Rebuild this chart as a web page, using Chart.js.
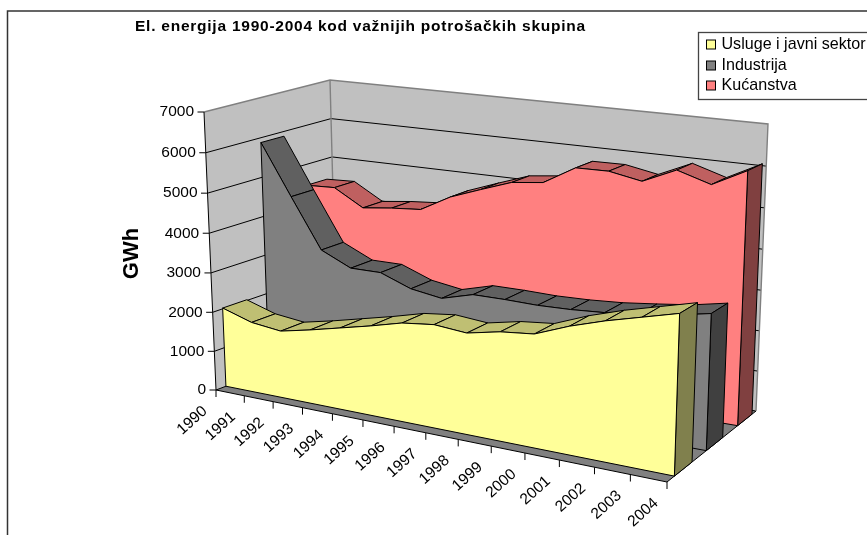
<!DOCTYPE html>
<html><head><meta charset="utf-8">
<style>html,body{margin:0;padding:0;background:#fff}canvas{display:block}</style>
<script src="https://cdn.jsdelivr.net/npm/chart.js@4"></script>
</head><body><canvas id="c" width="867" height="535"></canvas>
<script>
const years = ['1990','1991','1992','1993','1994','1995','1996','1997','1998','1999','2000','2001','2002','2003','2004'];
const usluge = [2020,1780,1690,1850,2030,2210,2410,2500,2430,2590,2670,2980,3230,3440,3650];
const industrija = [5880,4600,3350,3000,3000,2710,2590,2800,2800,2780,2800,2850,2940,3040,3200];
const kucanstva = [4460,4490,4060,4150,4210,4620,4900,5170,5260,5710,5720,5570,5930,5680,6100];
const seriesNames = ['Usluge i javni sektor','Industrija','Kućanstva'];
const titleText = 'El. energija 1990-2004 kod važnijih potrošačkih skupina';
const axisTitle = 'GWh';
const yMax = 7000, yStep = 1000;

// perspective box: corners indexed [t][d][h]
const box = [[[[216,390],[204,112]],[[337,344],[330,80]]],[[[667,482],[677,162]],[[756,411],[768,124]]]];
const persp = {t:-0.13, d:0.10, h:-0.03};
function project(t,d,h){
  let X=0,Y=0,W=0;
  for(const a of [0,1])for(const b of [0,1])for(const c of [0,1]){
    const w=(a?t:1-t)*(b?d:1-d)*(c?h:1-h)*(1+persp.t*a+persp.d*b+persp.h*c);
    X+=w*box[a][b][c][0];Y+=w*box[a][b][c][1];W+=w;
  }
  return {x:X/W,y:Y/W};
}
const tOf=i=>i/(years.length-1), hOf=v=>v/yMax;
const fontFamily='"Liberation Sans", Arial, sans-serif';
const tickFont=Chart.helpers.toFont({family:fontFamily,size:15.5,lineHeight:1.2});

class GwhScale extends Chart.LinearScale{
  static id='gwh3d'; static defaults={};
  _computeLabelArea(){return undefined;}
  _computeLabelItems(){
    return this.ticks.map(tk=>{const p=project(0,0,hOf(tk.value));
      return {label:String(tk.value),font:tickFont,textOffset:0,options:{rotation:0,color:'#000',textAlign:'right',textBaseline:'middle',translation:[p.x-10,p.y]}};});
  }
  _computeGridLineItems(){
    return this.ticks.map(tk=>{const p=project(0,0,hOf(tk.value));
      return {x1:0,y1:0,x2:0,y2:0,tx1:p.x-6.5,ty1:p.y,tx2:p.x,ty2:p.y,width:0,color:'',tickWidth:1,tickColor:'#000',tickBorderDash:[],tickBorderDashOffset:0};});
  }
}
class YearScale extends Chart.CategoryScale{
  static id='year3d'; static defaults={};
  _computeLabelArea(){return undefined;}
  _computeLabelItems(){
    return this.ticks.map((tk,i)=>{const p=project(tOf(i),0,0);
      return {label:years[i],font:tickFont,textOffset:0,options:{rotation:-42*Math.PI/180,color:'#000',textAlign:'right',textBaseline:'middle',translation:[p.x-11,p.y+19]}};});
  }
  _computeGridLineItems(){
    return this.ticks.map((tk,i)=>{const p=project(tOf(i),0,0);
      return {x1:0,y1:0,x2:0,y2:0,tx1:p.x,ty1:p.y,tx2:p.x,ty2:p.y+7,width:0,color:'',tickWidth:1,tickColor:'#000',tickBorderDash:[],tickBorderDashOffset:0};});
  }
}
Chart.register(GwhScale,YearScale);

const painter=[];
function poly(pts,fillColor,line,width){
  painter.push({data:pts.map(p=>({x:p.x,y:p.y})).concat(fillColor?[{x:pts[0].x,y:pts[0].y}]:[]),
    polyFill:fillColor,showLine:true,fill:false,tension:0,borderColor:line||'#000',borderWidth:width===undefined?1:width,
    pointRadius:0,pointHoverRadius:0,xAxisID:'sx',yAxisID:'sy',clip:false,parsing:false,normalized:true,label:''});
}
// walls and floor
const P=project;
poly([P(0,0,0),P(0,1,0),P(0,1,1),P(0,0,1)],'#C0C0C0','#C0C0C0',0);
poly([P(0,1,0),P(1,1,0),P(1,1,1),P(0,1,1)],'#C0C0C0','#C0C0C0',0);
poly([P(0,0,0),P(1,0,0),P(1,1,0),P(0,1,0)],'#808080','#000',1);
for(let v=yStep;v<yMax;v+=yStep){const h=hOf(v);poly([P(0,0,h),P(0,1,h),P(1,1,h)],null,'#000',1);}
poly([P(0,0,1),P(0,1,1),P(1,1,1),P(1,1,0)],null,'#808080',1.4);
poly([P(0,1,1),P(0,1,0)],null,'#808080',1.4);
poly([P(0,0,0),P(0,0,1)],null,'#000',1);

const seriesDraw=[
 {v:kucanstva,d:[.775,.95],front:'#FF8080',top:'#BF6060',side:'#804040',name:seriesNames[2]},
 {v:industrija,d:[.415,.60],front:'#808080',top:'#606060',side:'#404040',name:seriesNames[1]},
 {v:usluge,d:[.075,.26],front:'#FFFF99',top:'#BFBF73',side:'#80804D',name:seriesNames[0]}
];
for(const s of seriesDraw){
  const [d0,d1]=s.d,n=s.v.length;
  for(let i=0;i<n-1;i++){
    poly([P(tOf(i),d0,hOf(s.v[i])),P(tOf(i+1),d0,hOf(s.v[i+1])),P(tOf(i+1),d1,hOf(s.v[i+1])),P(tOf(i),d1,hOf(s.v[i]))],s.top);
  }
  poly([P(1,d0,0),P(1,d1,0),P(1,d1,hOf(s.v[n-1])),P(1,d0,hOf(s.v[n-1]))],s.side);
  poly([P(0,d0,0)].concat(s.v.map((v,i)=>P(tOf(i),d0,hOf(v)))).concat([P(1,d0,0)]),s.front);
  painter[painter.length-1].label=s.name;
}
const polyPlugin={id:'polyFill',
  beforeDatasetDraw(chart,args){
    const ds=chart.data.datasets[args.index];
    if(!ds.polyFill)return;
    const pts=args.meta.data,ctx=chart.ctx;
    ctx.save();ctx.beginPath();
    pts.forEach((p,i)=>i?ctx.lineTo(p.x,p.y):ctx.moveTo(p.x,p.y));
    ctx.closePath();ctx.fillStyle=ds.polyFill;ctx.fill();ctx.restore();
  }};
const legendColors=['#FFFF99','#808080','#FF8080'];
const legendY=[44.5,65.5,85.5];
const decorPlugin={id:'decor',
  afterDraw(chart){
    const ctx=chart.ctx;
    ctx.save();
    ctx.strokeStyle='#333';ctx.lineWidth=1.5;
    ctx.beginPath();ctx.moveTo(867,11);ctx.lineTo(7.5,11);ctx.lineTo(7.5,535);ctx.stroke();
    ctx.fillStyle='#000';ctx.textBaseline='alphabetic';
    ctx.font='bold 15.5px '+fontFamily;ctx.textAlign='left';
    ctx.letterSpacing='0.76px';
    ctx.fillText(titleText,135,31);
    ctx.letterSpacing='0px';
    ctx.save();ctx.translate(138,253.5);ctx.rotate(-Math.PI/2);
    ctx.font='bold 22px '+fontFamily;ctx.textAlign='center';ctx.fillText(axisTitle,0,0);ctx.restore();
    ctx.fillStyle='#fff';ctx.fillRect(698,32.5,175,67);
    ctx.strokeStyle='#444';ctx.lineWidth=1.3;ctx.strokeRect(698.5,32.5,175,67);
    ctx.lineWidth=1;
    ctx.font='16.1px '+fontFamily;ctx.textBaseline='middle';
    seriesNames.forEach((nm,i)=>{
      ctx.fillStyle=legendColors[i];ctx.fillRect(706.5,legendY[i]-4.5,9,9);
      ctx.strokeStyle='#000';ctx.strokeRect(706.5,legendY[i]-4.5,9,9);
      ctx.fillStyle='#000';ctx.fillText(nm,721.5,legendY[i]);
    });
    ctx.restore();
  }};
const zeroFit=s=>{if(s.isHorizontal())s.height=0;else s.width=0;s.paddingLeft=s.paddingRight=s.paddingTop=s.paddingBottom=0;};
new Chart(document.getElementById('c'),{
  type:'scatter',
  data:{datasets:painter.slice().reverse()},
  options:{responsive:false,animation:false,events:[],
    layout:{padding:0},
    plugins:{legend:{display:false},title:{display:false},tooltip:{enabled:false}},
    scales:{
      sx:{axis:'x',type:'linear',min:0,max:867,display:false},
      sy:{axis:'y',type:'linear',min:0,max:535,reverse:true,display:false},
      x:{type:'year3d',labels:years,position:'bottom',afterFit:zeroFit,grid:{drawOnChartArea:false},border:{display:false},ticks:{autoSkip:false,maxRotation:0}},
      y:{type:'gwh3d',min:0,max:yMax,position:'left',afterFit:zeroFit,grid:{drawOnChartArea:false},border:{display:false},ticks:{stepSize:yStep,callback:v=>String(v)}}
    }
  },
  plugins:[polyPlugin,decorPlugin]
});
</script></body></html>
